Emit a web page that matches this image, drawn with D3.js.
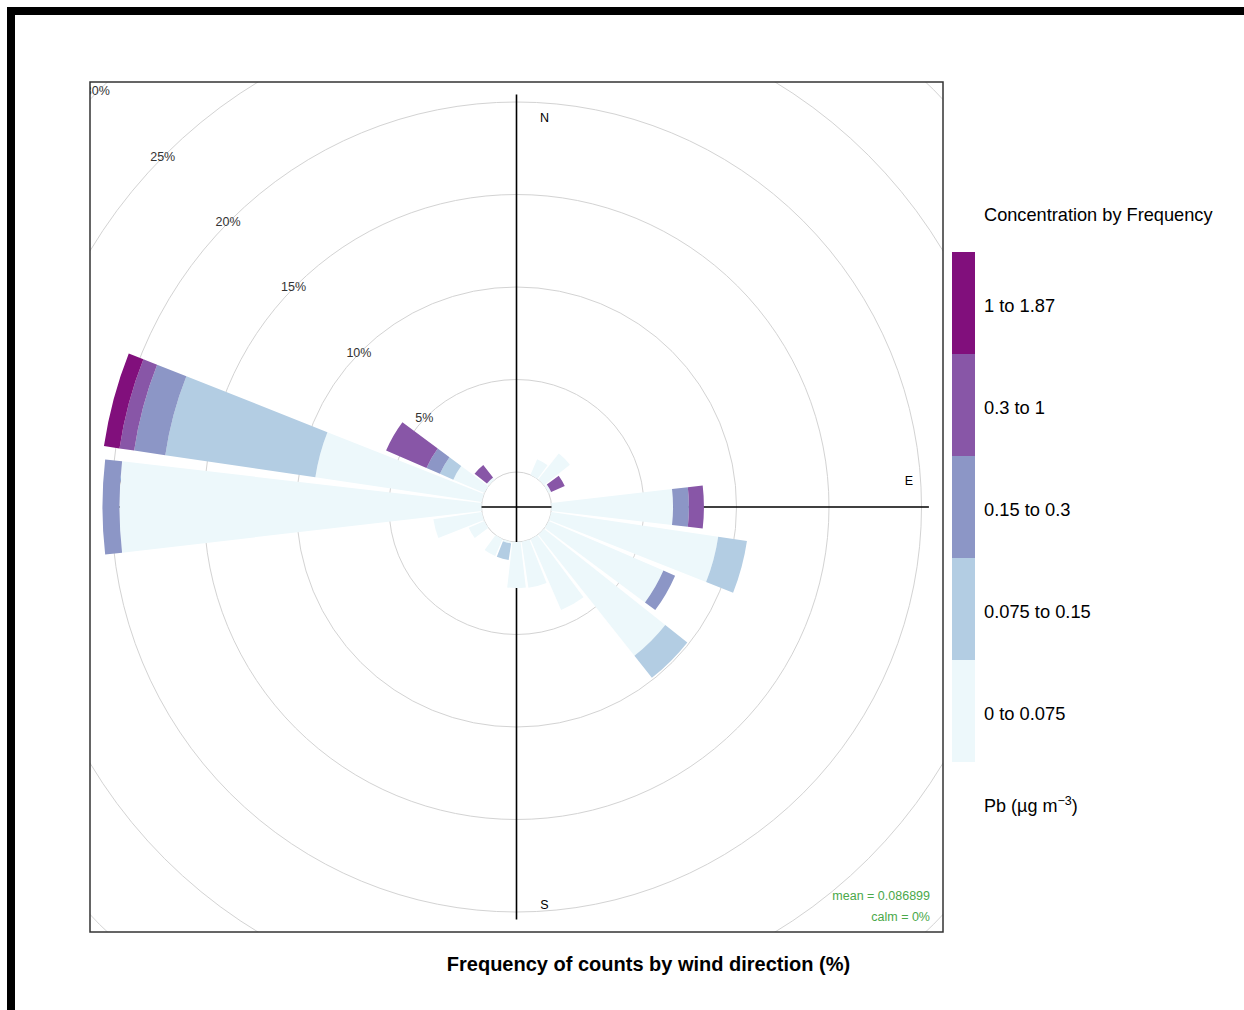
<!DOCTYPE html>
<html>
<head>
<meta charset="utf-8">
<script src="https://cdn.jsdelivr.net/npm/d3@7"></script>
<style>
  body { margin: 0; background: #fff; }
  svg { display: block; font-family: "Liberation Sans", Arial, sans-serif; }
</style>
</head>
<body>
<div id="chart"></div>
<script>
// wind direction bins (degrees), 15 degree sectors
var directions = d3.range(0, 360, 15);

// frequency (%) contributed by each concentration class, per direction
//            0   15   30    45    60   75   90    105   120   135   150   165   180   195  210 225  240   255   270    285   300   315  330 345
var cls1 = [  0,  0, 0.92, 1.79, 0.15, 0, 6.57, 9.13, 6.76, 8.37, 4.18, 2.52, 2.49, 0.10, 1.0, 0, 0.92, 2.65, 19.57, 9.10, 1.83, 0.15, 0, 0];
var cls2 = [  0,  0, 0,    0,    0,    0, 0,    1.57, 0,    1.52, 0,    0,    0,    0.90, 0,   0, 0,    0,    0,     8.20, 0.79, 0,    0, 0];
var cls3 = [  0,  0, 0,    0,    0,    0, 0.86, 0,    0.69, 0,    0,    0,    0,    0,    0,   0, 0,    0,    0.92,  1.70, 0.79, 0,    0, 0];
var cls4 = [  0,  0, 0,    0,    0.80, 0, 0.81, 0,    0,    0,    0,    0,    0,    0,    0,   0, 0,    0,    0,     0.80, 2.38, 0.85, 0, 0];
var cls5 = [  0,  0, 0,    0,    0,    0, 0,    0,    0,    0,    0,    0,    0,    0,    0,   0, 0,    0,    0,     0.85, 0,    0,    0, 0];

var classLabels = ["0 to 0.075", "0.075 to 0.15", "0.15 to 0.3", "0.3 to 1", "1 to 1.87"];
var classColors = ["#edf8fb", "#b3cde3", "#8c96c6", "#8856a7", "#810f7c"];

var ringTicks = [0, 5, 10, 15, 20, 25, 30, 35, 40];
var compass = [{lab: "N", a: 0}, {lab: "E", a: 90}, {lab: "S", a: 180}, {lab: "W", a: 270}];

var meanText = "mean = 0.086899";
var calmText = "calm = 0%";

// layout
var width = 1244, height = 1010;
var panel = {x: 90, y: 82, w: 853, h: 850};
var cx = panel.x + panel.w / 2, cy = panel.y + panel.h / 2;

var svg = d3.select("#chart").append("svg")
    .attr("width", width)
    .attr("height", height);

// outer frame (top and left edges)
svg.append("rect").attr("x", 7).attr("y", 7).attr("width", width - 7).attr("height", 8).attr("fill", "#000");
svg.append("rect").attr("x", 7).attr("y", 7).attr("width", 8).attr("height", height - 7).attr("fill", "#000");

svg.append("clipPath").attr("id", "panelClip")
  .append("rect")
    .attr("x", panel.x).attr("y", panel.y)
    .attr("width", panel.w).attr("height", panel.h);

var r = d3.scaleLinear().domain([0, 30]).range([35, 35 + 30 * 18.5]);

var g = svg.append("g").attr("clip-path", "url(#panelClip)");
var plot = g.append("g").attr("transform", "translate(" + cx + "," + cy + ")");

// grid rings
plot.selectAll("circle.ring")
    .data(ringTicks)
  .enter().append("circle")
    .attr("class", "ring")
    .attr("r", function (d) { return r(d); })
    .attr("fill", "none")
    .attr("stroke", "#d3d3d3")
    .attr("stroke-width", 1);

// axes
var axisLen = r(20.4);
plot.append("line").attr("x1", 0).attr("x2", 0).attr("y1", -axisLen).attr("y2", axisLen)
    .attr("stroke", "#000").attr("stroke-width", 1.6);
plot.append("line").attr("x1", -axisLen).attr("x2", axisLen).attr("y1", 0).attr("y2", 0)
    .attr("stroke", "#000").attr("stroke-width", 1.6);

plot.selectAll("text.compass")
    .data(compass)
  .enter().append("text")
    .attr("class", "compass")
    .attr("x", function (d) { return d.a == 0 || d.a == 180 ? 28 : (d.a == 90 ? axisLen - 20 : -axisLen + 20); })
    .attr("y", function (d) { return d.a == 0 ? -axisLen + 27 : (d.a == 180 ? axisLen - 10 : -22); })
    .attr("text-anchor", "middle")
    .attr("font-size", "12.5px")
    .attr("fill", "#000")
    .text(function (d) { return d.lab; });

// stacked sectors
var classes = [cls1, cls2, cls3, cls4, cls5];
var half = 6.6 * Math.PI / 180;
var segs = [];
directions.forEach(function (dir, i) {
    var start = 0;
    classes.forEach(function (arr, k) {
        var v = arr[i];
        if (v > 0) segs.push({dir: dir, k: k, from: start, to: start + v});
        start += v;
    });
});

var arc = d3.arc()
    .innerRadius(function (d) { return r(d.from); })
    .outerRadius(function (d) { return r(d.to); })
    .startAngle(function (d) { return d.dir * Math.PI / 180 - half; })
    .endAngle(function (d) { return d.dir * Math.PI / 180 + half; });

plot.selectAll("path.seg")
    .data(segs)
  .enter().append("path")
    .attr("class", "seg")
    .attr("d", arc)
    .attr("fill", function (d) { return classColors[d.k]; });

// ring labels along NW
plot.selectAll("text.ringlab")
    .data(ringTicks.filter(function (d) { return d > 0; }))
  .enter().append("text")
    .attr("class", "ringlab")
    .attr("x", function (d) { return d3.pointRadial(-Math.PI / 4, r(d))[0] - 2; })
    .attr("y", function (d) { return d3.pointRadial(-Math.PI / 4, r(d))[1] + 1; })
    .attr("dy", "0.35em")
    .attr("text-anchor", "middle")
    .attr("font-size", "12.5px")
    .attr("fill", "#333")
    .text(function (d) { return d + "%"; });

// mean / calm
g.append("text").attr("x", panel.x + panel.w - 13).attr("y", panel.y + panel.h - 32)
    .attr("text-anchor", "end").attr("font-size", "12.5px").attr("fill", "#4aa84a").text(meanText);
g.append("text").attr("x", panel.x + panel.w - 13).attr("y", panel.y + panel.h - 11)
    .attr("text-anchor", "end").attr("font-size", "12.5px").attr("fill", "#4aa84a").text(calmText);

// panel border
svg.append("rect")
    .attr("x", panel.x).attr("y", panel.y)
    .attr("width", panel.w).attr("height", panel.h)
    .attr("fill", "none").attr("stroke", "#333").attr("stroke-width", 1.5);

// x title
svg.append("text")
    .attr("x", cx + 132).attr("y", 971)
    .attr("text-anchor", "middle")
    .attr("font-size", "20px")
    .attr("font-weight", "bold")
    .attr("fill", "#000")
    .text("Frequency of counts by wind direction (%)");

// legend
var key = svg.append("g");
var keyY = d3.scaleBand().domain(d3.range(5).reverse()).range([252, 762]);
key.selectAll("rect")
    .data(d3.range(5))
  .enter().append("rect")
    .attr("x", 952).attr("width", 23)
    .attr("y", function (d) { return keyY(d); })
    .attr("height", keyY.bandwidth())
    .attr("fill", function (d) { return classColors[d]; });

key.selectAll("text.klab")
    .data(d3.range(5))
  .enter().append("text")
    .attr("class", "klab")
    .attr("x", 984)
    .attr("y", function (d) { return keyY(d) + keyY.bandwidth() / 2 + 9; })
    .attr("font-size", "18.3px")
    .attr("fill", "#000")
    .text(function (d) { return classLabels[d]; });

key.append("text").attr("x", 984).attr("y", 221)
    .attr("font-size", "18.2px").attr("fill", "#000")
    .text("Concentration by Frequency");

var unit = key.append("text").attr("x", 984).attr("y", 812)
    .attr("font-size", "18px").attr("fill", "#000");
unit.append("tspan").text("Pb (\u00b5g m");
unit.append("tspan").attr("dy", -7).attr("font-size", "12.5px").text("\u22123");
unit.append("tspan").attr("dy", 7).text(")");
</script>
</body>
</html>
